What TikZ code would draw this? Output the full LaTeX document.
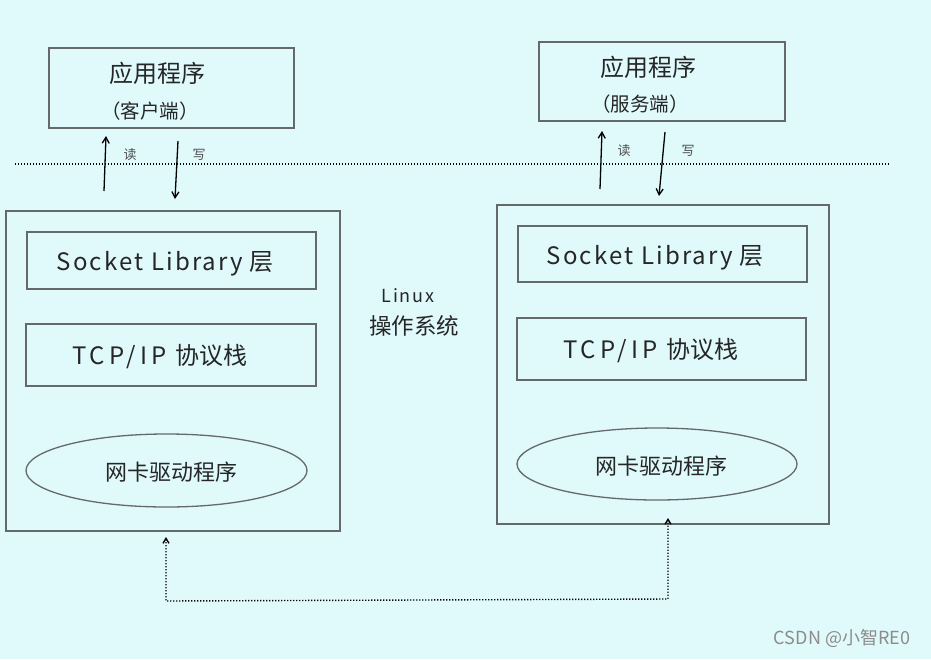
\documentclass[tikz,border=0pt]{standalone}
\usepackage{fontspec}
\newfontfamily\cjk{Noto Sans CJK SC}
\newfontfamily\cjkwa[LetterSpace=9]{Noto Sans CJK SC}
\newfontfamily\cjkwb[LetterSpace=17]{Noto Sans CJK SC}
\usetikzlibrary{arrows.meta,shapes.geometric}
\definecolor{bg}{RGB}{224,249,251}
\definecolor{boxline}{RGB}{100,106,108}
\definecolor{wm}{RGB}{140,140,140}
\begin{document}
\begin{tikzpicture}[x=1pt,y=-1pt,
  box/.style={draw=boxline, line width=1.3pt, inner sep=0pt},
  ell/.style={ellipse, draw=boxline, line width=1.3pt, inner sep=0pt},
  bigtxt/.style={font=\cjk\fontsize{24}{26}\selectfont, inner sep=0pt, text=black!85},
  midtxt/.style={font=\cjk\fontsize{19.5}{22}\selectfont, inner sep=0pt, text=black!85},
  smalltxt/.style={font=\cjk\fontsize{13}{15}\selectfont, inner sep=0pt, text=black!70},
  rw/.style={line width=1.3pt, -{Straight Barb[length=6pt,width=7pt]}},
  dotarrow/.style={line width=1.4pt, dash pattern=on 1.4pt off 1.6pt,
     {Straight Barb[length=5pt,width=6pt]}-{Straight Barb[length=5pt,width=6pt]}},
  sep/.style={line width=1.4pt, dash pattern=on 1.4pt off 1.6pt}
]
\fill[bg] (0,0) rectangle (931,659);
\useasboundingbox (0,0) rectangle (931,659);

% application boxes
\node[box, minimum width=245pt, minimum height=80pt] (capp) at (171.5,88) {};
\node[bigtxt] (capp1) at (157,73) {应用程序};
\node[midtxt] (capp2) at (150,111) {（客户端）};
\node[box, minimum width=246pt, minimum height=79pt] (sapp) at (662,81.5) {};
\node[bigtxt] (sapp1) at (648,67) {应用程序};
\node[midtxt] (sapp2) at (640,104) {（服务端）};

% separator
\coordinate (sepL) at (15,164);
\coordinate (sepR) at (890,164);
\draw[sep] (sepL) -- (sepR);

% OS boxes
\node[box, minimum width=334pt, minimum height=320pt] (cos) at (173,371) {};
\node[box, minimum width=332pt, minimum height=319pt] (sos) at (663,364.5) {};

\node[box, minimum width=289pt, minimum height=57pt] (csock) at (171.5,260.5) {};
\node[bigtxt] (csockt) at (165,264) {{\cjkwa Socket Library}\hspace{6pt}层};
\node[box, minimum width=290pt, minimum height=62pt] (ctcp) at (171,355) {};
\node[bigtxt] (ctcpt) at (160,357) {{\cjkwb TCP/IP}\, 协议栈};
\node[ell, minimum width=281pt, minimum height=73pt] (ceth) at (166.5,470.5) {};
\node[midtxt, font=\cjk\fontsize{22}{24}\selectfont] (cetht) at (171,472) {网卡驱动程序};

\node[box, minimum width=289pt, minimum height=56pt] (ssock) at (662.5,254) {};
\node[bigtxt] (ssockt) at (655,258) {{\cjkwa Socket Library}\hspace{6pt}层};
\node[box, minimum width=289pt, minimum height=62pt] (stcp) at (661.5,349) {};
\node[bigtxt] (stcpt) at (651,351) {{\cjkwb TCP/IP}\, 协议栈};
\node[ell, minimum width=280pt, minimum height=72pt] (seth) at (657,464) {};
\node[midtxt, font=\cjk\fontsize{22}{24}\selectfont] (setht) at (661,466) {网卡驱动程序};

% Linux label
\node[midtxt, font=\cjkwa\fontsize{18}{22}\selectfont] (linux) at (408,296) {Linux};
\node[bigtxt, font=\cjk\fontsize{22.5}{24}\selectfont] (ostxt) at (414,326) {操作系统};

% read / write arrows
\coordinate (cr1) at (104,191); \coordinate (cr2) at (106,136);
\coordinate (cw1) at (178,141); \coordinate (cw2) at (175,199);
\draw[rw] (cr1) -- (cr2);
\draw[rw] (cw1) -- (cw2);
\node[smalltxt] (cread) at (130,155) {读};
\node[smalltxt] (cwrite) at (199,155) {写};

\coordinate (sr1) at (600,189); \coordinate (sr2) at (602,131);
\coordinate (sw1) at (665,132); \coordinate (sw2) at (659,196);
\draw[rw] (sr1) -- (sr2);
\draw[rw] (sw1) -- (sw2);
\node[smalltxt] (sread) at (624,151) {读};
\node[smalltxt] (swrite) at (688,151) {写};

% dotted link
\coordinate (d1) at (166,537);
\coordinate (d2) at (166,601);
\coordinate (d3) at (668,599);
\coordinate (d4) at (668,518);
\draw[dotarrow] (d1) -- (d2) -- (d3) -- (d4);

% watermark
\node[font=\cjk\fontsize{18}{20}\selectfont, text=wm, inner sep=0pt] (wmark) at (842,638) {CSDN @小智RE0};
\end{tikzpicture}
\end{document}
